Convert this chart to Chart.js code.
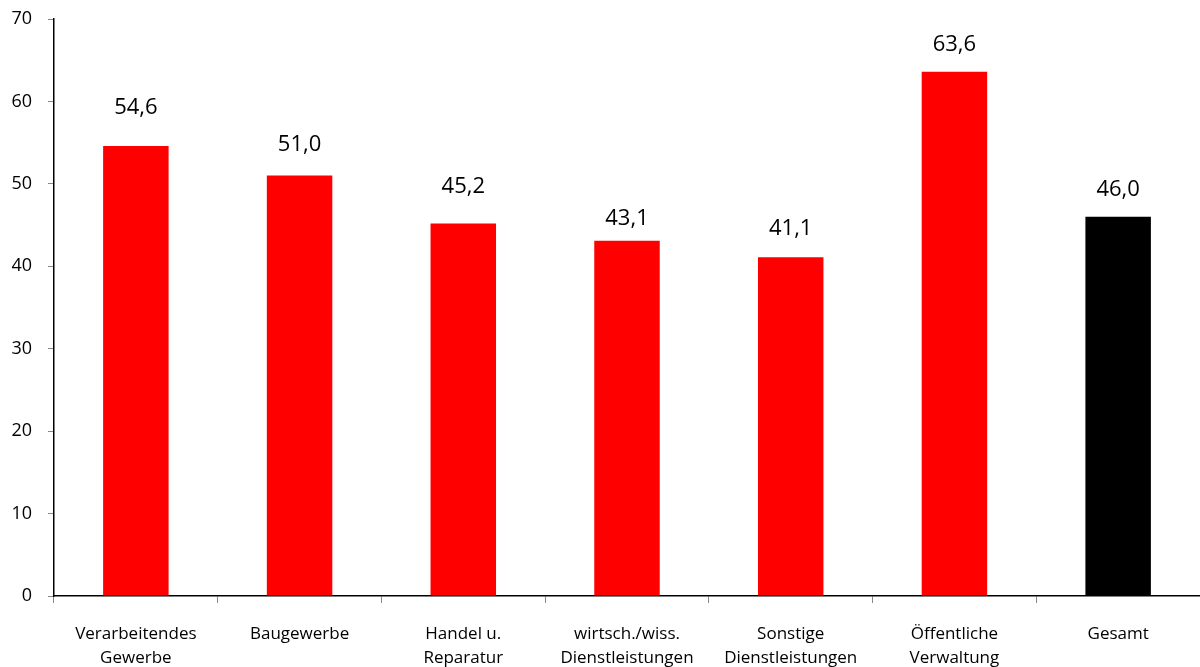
<!DOCTYPE html>
<html lang="de">
<head>
<meta charset="utf-8">
<title>Anteil nach Wirtschaftszweig</title>
<script src="https://cdn.jsdelivr.net/npm/chart.js@4.4.1/dist/chart.umd.min.js"></script>
<style>
  html, body { margin: 0; padding: 0; background: #fff; }
  #wrap { width: 1200px; height: 667px; position: relative; }
</style>
</head>
<body>
<div id="wrap"><canvas id="chart"></canvas></div>
<script>
// categories (two-line labels) and values
const categories = [
  ['Verarbeitendes', 'Gewerbe'],
  ['Baugewerbe'],
  ['Handel u.', 'Reparatur'],
  ['wirtsch./wiss.', 'Dienstleistungen'],
  ['Sonstige', 'Dienstleistungen'],
  ['Öffentliche', 'Verwaltung'],
  ['Gesamt']
];
const values = [54.6, 51.0, 45.2, 43.1, 41.1, 63.6, 46.0];
const barColors = ['#ff0000', '#ff0000', '#ff0000', '#ff0000', '#ff0000', '#ff0000', '#000000'];
const yTicks = [0, 10, 20, 30, 40, 50, 60, 70];

// gap between bar top and label centre, px
const labelGap = [38, 31, 37, 22, 28, 27, 27];

const FONT = '"Open Sans", Lato, sans-serif';

// value labels above bars, German decimal comma
const valueLabels = {
  id: 'valueLabels',
  afterDatasetsDraw(chart) {
    const ctx = chart.ctx;
    const meta = chart.getDatasetMeta(0);
    ctx.save();
    ctx.font = '22px ' + FONT;
    ctx.fillStyle = '#000';
    ctx.textAlign = 'center';
    ctx.textBaseline = 'middle';
    meta.data.forEach((bar, i) => {
      const txt = values[i].toFixed(1).replace('.', ',');
      ctx.fillText(txt, bar.x, bar.y - labelGap[i]);
    });
    ctx.restore();
  }
};

new Chart(document.getElementById('chart'), {
  type: 'bar',
  data: {
    labels: categories,
    datasets: [{
      data: values,
      backgroundColor: barColors,
      borderWidth: 0,
      barPercentage: 0.4,
      categoryPercentage: 1.0
    }]
  },
  options: {
    responsive: true,
    maintainAspectRatio: false,
    animation: false,
    layout: { padding: { top: 19, right: 0, left: 0, bottom: 0 } },
    plugins: {
      legend: { display: false },
      tooltip: { enabled: false }
    },
    scales: {
      x: {
        offset: true,
        grid: {
          offset: true,
          drawOnChartArea: false,
          drawTicks: true,
          tickLength: 7,
          color: '#888'
        },
        border: { color: '#000', width: 1.5 },
        ticks: {
          color: '#000',
          font: { family: FONT, size: 17, lineHeight: 1.4 },
          padding: 19,
          maxRotation: 0,
          autoSkip: false
        },
        afterFit(scale) {
          scale.height = 71;
          scale.paddingLeft = 0;
          scale.paddingRight = 0;
        }
      },
      y: {
        min: 0,
        max: 70,
        afterBuildTicks(scale) { scale.ticks = yTicks.map(v => ({ value: v })); },
        grid: {
          drawOnChartArea: false,
          drawTicks: true,
          tickLength: 6,
          color: '#888'
        },
        border: { color: '#000', width: 1.5 },
        ticks: {
          color: '#000',
          font: { family: FONT, size: 18 },
          padding: 16
        },
        afterFit(scale) {
          scale.width = 54;
          scale.paddingTop = 0;
          scale.paddingBottom = 0;
        }
      }
    }
  },
  plugins: [valueLabels]
});
</script>
</body>
</html>
